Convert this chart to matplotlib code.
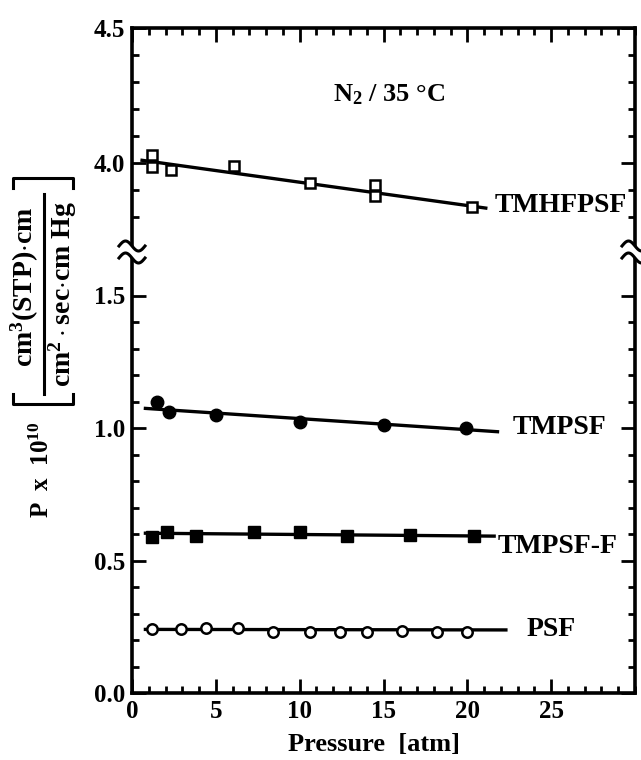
import numpy as np
import matplotlib
matplotlib.use("Agg")
import matplotlib.pyplot as plt
from matplotlib.lines import Line2D
from matplotlib.patches import Polygon
from matplotlib.ticker import MultipleLocator, FixedLocator, FormatStrFormatter

plt.rcParams['font.family'] = ['Liberation Serif', 'DejaVu Serif']
plt.rcParams['font.weight'] = 'bold'
plt.rcParams['mathtext.fontset'] = 'custom'
plt.rcParams['mathtext.rm'] = 'Liberation Serif:bold'
plt.rcParams['mathtext.it'] = 'Liberation Serif:bold'
plt.rcParams['mathtext.bf'] = 'Liberation Serif:bold'

# ---- data ----
tmhfpsf_p = [1.2, 1.2, 2.3, 6.1, 10.6, 14.5, 14.5, 20.3]
tmhfpsf_v = [4.03, 3.986, 3.974, 3.99, 3.925, 3.92, 3.878, 3.838]
tmhfpsf_fit_p = [0.6, 21.1]
tmhfpsf_fit_v = [4.01, 3.833]

tmpsf_p = [1.5, 2.2, 5.0, 10.0, 15.0, 19.9]
tmpsf_v = [1.099, 1.061, 1.049, 1.024, 1.011, 0.999]
tmpsf_fit_p = [0.8, 21.8]
tmpsf_fit_v = [1.074, 0.986]

tmpsff_p = [1.2, 2.1, 3.8, 7.3, 10.0, 12.8, 16.6, 20.4]
tmpsff_v = [0.590, 0.609, 0.592, 0.606, 0.606, 0.592, 0.596, 0.592]
tmpsff_fit_p = [0.8, 21.6]
tmpsff_fit_v = [0.603, 0.592]

psf_p = [1.2, 2.9, 4.4, 6.3, 8.4, 10.6, 12.4, 14.0, 16.1, 18.2, 20.0]
psf_v = [0.240, 0.240, 0.244, 0.244, 0.229, 0.229, 0.229, 0.230, 0.234, 0.229, 0.231]
psf_fit_p = [0.8, 22.3]
psf_fit_v = [0.240, 0.238]

x_ticks = [0, 5, 10, 15, 20, 25]

W, H = 641, 760
fig = plt.figure(figsize=(W/100, H/100), dpi=100)

def fx(px):
    return px / W

def fy(py):
    return 1 - py / H

L, R, B, BR, T = 132, 635, 693, 253, 28
ax_lo = fig.add_axes([fx(L), fy(B), (R-L)/W, (B-BR)/H])
ax_hi = fig.add_axes([fx(L), fy(BR), (R-L)/W, (BR-T)/H])

ax_lo.set_xlim(0, 30)
ax_hi.set_xlim(0, 30)
ax_lo.set_ylim(0, (B-BR)/265.0)
ax_hi.set_ylim(4.5 - (BR-T)/270.0, 4.5)

lw_line = 2.4
# TMHFPSF
ax_hi.plot(tmhfpsf_fit_p, tmhfpsf_fit_v, color='black', lw=lw_line, zorder=2)
ax_hi.plot(tmhfpsf_p, tmhfpsf_v, 's', ms=7.5, mfc='white', mec='black', mew=1.8, zorder=3)
# TMPSF
ax_lo.plot(tmpsf_fit_p, tmpsf_fit_v, color='black', lw=lw_line, zorder=2)
ax_lo.plot(tmpsf_p, tmpsf_v, 'o', ms=9, mfc='black', mec='black', zorder=3)
# TMPSF-F
ax_lo.plot(tmpsff_fit_p, tmpsff_fit_v, color='black', lw=lw_line, zorder=2)
ax_lo.plot(tmpsff_p, tmpsff_v, 's', ms=8, mfc='black', mec='black', zorder=3)
# PSF
ax_lo.plot(psf_fit_p, psf_fit_v, color='black', lw=lw_line, zorder=2)
ax_lo.plot(psf_p, psf_v, 'o', ms=7.5, mfc='white', mec='black', mew=1.8, zorder=3)

for ax in (ax_lo, ax_hi):
    for s in ax.spines.values():
        s.set_linewidth(2.6)
    ax.tick_params(which='both', direction='in', width=2, labelsize=18,
                   top=True, right=True)
    ax.tick_params(which='major', length=10)
    ax.tick_params(which='minor', length=5)
    ax.xaxis.set_major_locator(FixedLocator(x_ticks))
    ax.xaxis.set_minor_locator(MultipleLocator(1))

ax_lo.spines['top'].set_visible(False)
ax_hi.spines['bottom'].set_visible(False)
ax_lo.tick_params(axis='x', which='both', top=False)
ax_hi.tick_params(axis='x', which='both', bottom=False, labelbottom=False)

ax_lo.yaxis.set_major_locator(FixedLocator([0.0, 0.5, 1.0, 1.5]))
ax_lo.yaxis.set_minor_locator(FixedLocator([v/10 for v in range(0, 16) if v % 5]))
ax_hi.yaxis.set_major_locator(FixedLocator([4.0, 4.5]))
ax_hi.yaxis.set_minor_locator(FixedLocator([3.8, 3.9, 4.1, 4.2, 4.3, 4.4]))
ax_lo.yaxis.set_major_formatter(FormatStrFormatter('%.1f'))
ax_hi.yaxis.set_major_formatter(FormatStrFormatter('%.1f'))
ax_lo.tick_params(axis='y', pad=5)
ax_hi.tick_params(axis='y', pad=5)
ax_lo.tick_params(axis='x', pad=5)

for lab in ax_lo.get_xticklabels() + ax_lo.get_yticklabels() + ax_hi.get_yticklabels():
    lab.set_fontweight('bold')

# series labels
fs_lab = 20
ax_hi.text(21.65, 3.844, 'TMHFPSF', fontsize=fs_lab, fontweight='bold', va='center', ha='left')
ax_lo.text(22.7, 1.0, 'TMPSF', fontsize=fs_lab, fontweight='bold', va='center', ha='left')
ax_lo.text(21.8, 0.551, 'TMPSF-F', fontsize=fs_lab, fontweight='bold', va='center', ha='left')
ax_lo.text(23.55, 0.238, 'PSF', fontsize=fs_lab, fontweight='bold', va='center', ha='left')
ax_hi.text(15.3, 4.252, r'N$_2$ / 35 °C', fontsize=19, fontweight='bold', va='center', ha='center')

# x label
fig.text(fx(374), fy(744), 'Pressure  [atm]', fontsize=19, fontweight='bold', ha='center', va='center')

# y label composition
fig.text(fx(42), fy(470), r'P  x  10$^{10}$', fontsize=18, fontweight='bold', rotation=90,
         ha='center', va='center')
fig.text(fx(25), fy(287), r'cm$^3$(STP)$\cdot$cm', fontsize=20, fontweight='bold', rotation=90,
         ha='center', va='center')
fig.text(fx(63), fy(294), r'cm$^2\cdot$sec$\cdot$cm Hg', fontsize=20, fontweight='bold', rotation=90,
         ha='center', va='center')
fig.add_artist(Line2D([fx(44), fx(44)], [fy(194), fy(394)], color='black', lw=2.2))
for yb, sgn in ((178, 1), (404, -1)):
    fig.add_artist(Line2D([fx(13), fx(13), fx(73), fx(73)],
                          [fy(yb + sgn*10), fy(yb), fy(yb), fy(yb + sgn*10)],
                          color='black', lw=2.2))

# break marks on left and right spines
t = np.linspace(-1, 1, 60)
for xc in (L, R):
    xs = xc + 13 * t
    y1 = 246 + 5 * np.sin(np.pi * t)
    y2 = 258 + 5 * np.sin(np.pi * t)
    poly = Polygon(np.column_stack([np.r_[fx(xs), fx(xs[::-1])],
                                    np.r_[fy(y1), fy(y2[::-1])]]),
                   closed=True, facecolor='white', edgecolor='none',
                   transform=fig.transFigure, zorder=10)
    fig.add_artist(poly)
    for yy in (y1, y2):
        fig.add_artist(Line2D(fx(xs), fy(yy), color='black', lw=2.2, zorder=11))

fig.savefig('out.png', dpi=100)
